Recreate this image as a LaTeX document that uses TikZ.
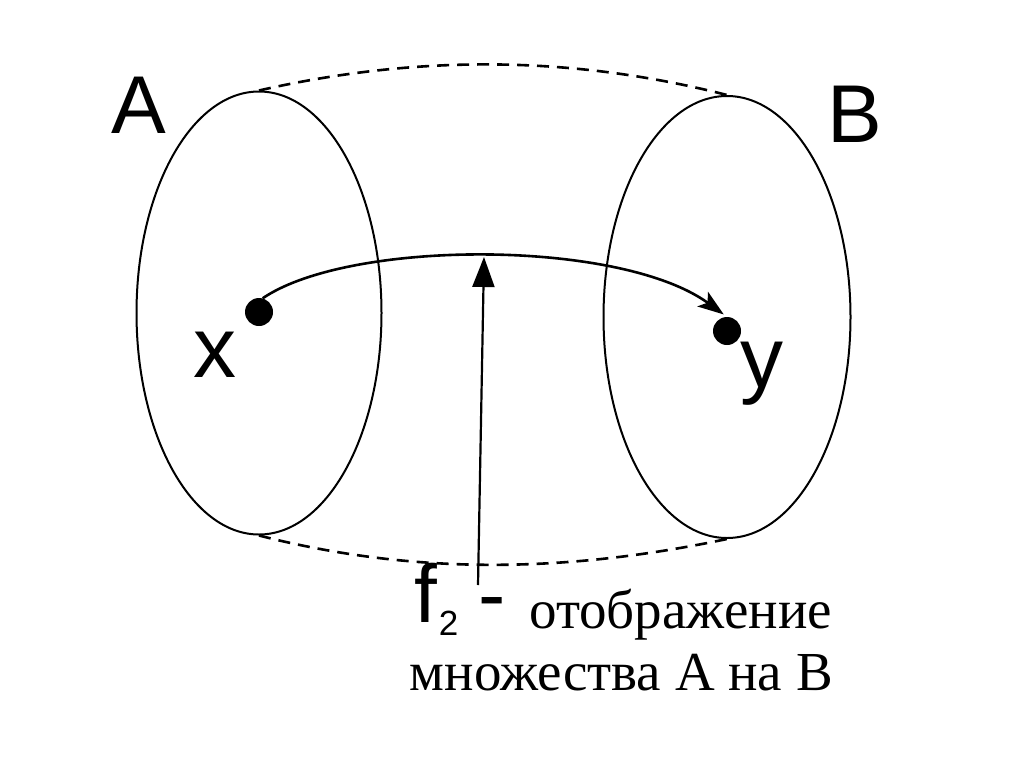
\documentclass[tikz,border=0pt]{standalone}
\usepackage{fontspec}
\newfontfamily\lsans{Liberation Sans}
\newfontfamily\lserif{Liberation Serif}
\usetikzlibrary{shapes.geometric,arrows.meta}
\tikzset{
  setell/.style={draw, ellipse, line width=2pt, inner sep=0pt},
  elem/.style={circle, fill=black, minimum size=28pt, inner sep=0pt},
  bigletter/.style={font=\lsans\fontsize{82}{98}\selectfont, inner sep=0pt, anchor=base},
  smallletter/.style={font=\lsans\fontsize{86}{100}\selectfont, inner sep=0pt, anchor=base},
  rutext/.style={font=\lserif\fontsize{55}{66}\selectfont, inner sep=0pt, anchor=base east},
  hull/.style={dashed, dash pattern=on 12pt off 8pt, line width=2.6pt},
  maparrow/.style={line width=2.6pt, -{Stealth[length=26pt,width=18pt,inset=6pt]}},
  ptrarrow/.style={line width=2.2pt, -{Triangle[length=30pt,width=22pt]}}
}
\begin{document}
\begin{tikzpicture}[x=1pt,y=-1pt]
\useasboundingbox[fill=white] (0,0) rectangle (1024,768);
% sets
\node[setell, minimum width=245pt, minimum height=443pt] (setA) at (259,313) {};
\node[setell, minimum width=247pt, minimum height=442pt] (setB) at (727,317) {};
% hull dashed curves
\draw[hull] (setA.north) .. controls (415,55) and (570,55) .. (setB.north);
\draw[hull] (setA.south) .. controls (410,574) and (560,574) .. (setB.south);
% labels of sets
\node[bigletter] (labA) at (139,133) {A};
\node[bigletter] (labB) at (855,142) {B};
% elements
\node[elem] (px) at (259,312) {};
\node[elem] (py) at (727,331) {};
\node[smallletter] (labx) at (215,377) {x};
\node[smallletter] (laby) at (762,387) {y};
% mapping arc
\draw[maparrow, shorten >=4pt] (px.75) .. controls (350,239) and (620,239) .. (py.north);
% pointer arrow
\coordinate (fbot) at (478,585);
\coordinate (ftop) at (484,257);
\draw[ptrarrow] (fbot) -- (ftop);
% caption
\node[font=\lsans\fontsize{82}{98}\selectfont, inner sep=0pt, anchor=base west] (fname) at (414,622)
  {f\kern2pt{\fontsize{35}{40}\selectfont\raisebox{-13pt}{2}}\kern20pt-};
\node[rutext] (cap1) at (832,628) {отображение};
\node[rutext] (cap2) at (833,690) {множества А на В};
\end{tikzpicture}
\end{document}
